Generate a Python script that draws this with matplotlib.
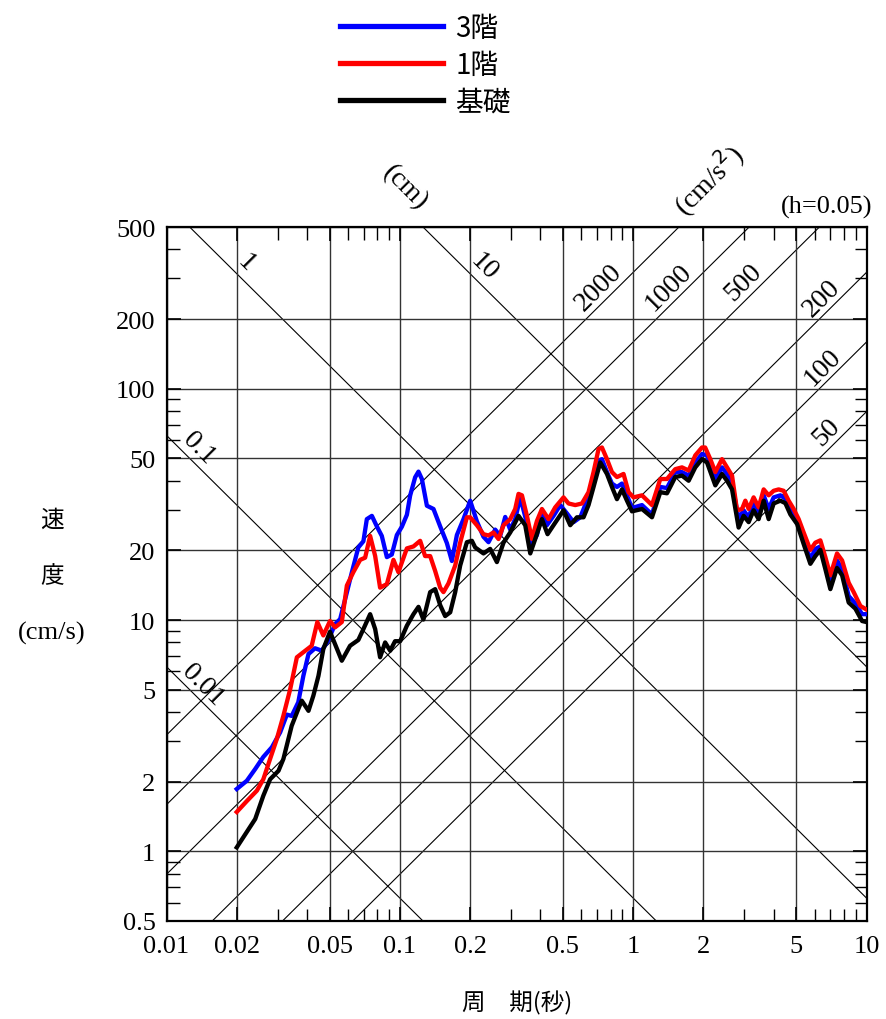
import numpy as np
import matplotlib
matplotlib.use('Agg')
import matplotlib.pyplot as plt
from matplotlib.ticker import LogLocator, NullFormatter

plt.rcParams['font.family'] = ['Liberation Serif', 'Noto Sans CJK JP']

# 周期 (秒) と速度応答 (cm/s), h=0.05
T_3f = [0.020, 0.0221, 0.024, 0.026, 0.0283, 0.0307, 0.0328, 0.0344, 0.0367, 0.0386,
        0.0406, 0.0433, 0.0463, 0.0494, 0.0528, 0.0555, 0.0583, 0.0623, 0.0664, 0.0698,
        0.0722, 0.0759, 0.0797, 0.0837, 0.0880, 0.0924, 0.0971, 0.1020, 0.1072, 0.1107,
        0.1163, 0.1202, 0.1243, 0.1306, 0.1394, 0.1489, 0.1591, 0.1671, 0.1756, 0.1874,
        0.2002, 0.2139, 0.2283, 0.2399, 0.2563, 0.2692, 0.2829, 0.2972, 0.3122, 0.3281,
        0.3446, 0.3681, 0.3868, 0.4064, 0.4269, 0.4557, 0.4869, 0.5202, 0.5553, 0.5932,
        0.6338, 0.6764, 0.7107, 0.7348, 0.7721, 0.8111, 0.8522, 0.8954, 0.9407, 0.9882,
        1.091, 1.204, 1.307, 1.396, 1.515, 1.619, 1.729, 1.846, 1.972, 2.072,
        2.249, 2.403, 2.525, 2.653, 2.831, 2.974, 3.126, 3.283, 3.450, 3.625,
        3.808, 4.001, 4.274, 4.490, 4.718, 5.041, 5.379, 5.746, 6.037, 6.342,
        6.663, 7.000, 7.477, 7.860, 8.388, 8.960, 9.575, 10.0]
V_3f = [1.86, 2.02, 2.27, 2.56, 2.82, 3.27, 3.90, 3.85, 4.41, 5.74,
        7.13, 7.55, 7.37, 8.20, 9.60, 10.1, 12.3, 16.1, 20.6, 21.9,
        27.3, 28.2, 25.4, 23.1, 18.7, 19.2, 23.3, 25.3, 28.5, 34.5,
        41.4, 43.8, 40.7, 31.2, 30.2, 25.4, 21.5, 18.0, 23.3, 27.3,
        32.8, 26.7, 22.9, 21.7, 24.6, 23.1, 27.9, 24.6, 27.3, 33.9,
        28.0, 21.2, 23.3, 28.9, 25.7, 28.2, 31.4, 28.9, 26.5, 27.8,
        32.8, 39.4, 48.8, 49.6, 43.6, 38.9, 37.6, 38.9, 34.6, 30.5,
        31.4, 28.6, 37.6, 37.2, 43.6, 43.6, 42.1, 48.0, 52.2, 51.5,
        40.7, 45.7, 42.8, 39.0, 27.3, 29.8, 27.8, 31.9, 28.9, 34.6,
        30.2, 33.9, 34.6, 33.5, 30.2, 26.8, 22.4, 18.3, 20.3, 20.8,
        17.5, 14.2, 18.1, 16.6, 12.7, 11.8, 10.6, 10.6]

T_1f = [0.020, 0.0221, 0.0244, 0.026, 0.0278, 0.0297, 0.0317, 0.0339, 0.0362, 0.0386,
        0.0419, 0.0443, 0.0470, 0.0502, 0.0528, 0.0564, 0.0593, 0.0632, 0.0676, 0.0710,
        0.0746, 0.0784, 0.0823, 0.0880, 0.0939, 0.0986, 0.1072, 0.1144, 0.1222, 0.1283,
        0.1349, 0.1417, 0.1489, 0.1538, 0.1616, 0.1727, 0.1814, 0.1938, 0.2002, 0.2139,
        0.2283, 0.2399, 0.2520, 0.2648, 0.2782, 0.2972, 0.3122, 0.3226, 0.3337, 0.3505,
        0.3681, 0.3868, 0.4064, 0.4338, 0.4634, 0.5030, 0.5284, 0.5646, 0.6032, 0.6437,
        0.6764, 0.7107, 0.7348, 0.7721, 0.8111, 0.8522, 0.9093, 0.9556, 1.004, 1.091,
        1.204, 1.307, 1.396, 1.515, 1.619, 1.729, 1.846, 1.972, 2.035, 2.141,
        2.249, 2.403, 2.525, 2.653, 2.787, 2.928, 3.025, 3.126, 3.283, 3.450,
        3.625, 3.808, 4.001, 4.203, 4.415, 4.639, 4.874, 5.121, 5.379, 5.746,
        6.037, 6.342, 6.663, 7.000, 7.477, 7.860, 8.388, 8.813, 9.416, 10.0]
V_1f = [1.48, 1.65, 1.83, 2.05, 2.51, 3.06, 3.86, 5.03, 6.90, 7.26,
        7.74, 9.80, 8.58, 9.90, 9.30, 9.80, 14.1, 16.1, 18.2, 18.6,
        23.1, 18.9, 13.8, 14.3, 18.2, 16.1, 20.4, 20.8, 22.0, 18.9,
        18.9, 16.3, 13.8, 13.2, 14.4, 17.2, 21.6, 27.8, 27.8, 25.7,
        23.5, 23.2, 23.9, 22.4, 25.7, 27.3, 30.2, 35.1, 34.6, 28.2,
        22.4, 26.8, 30.2, 27.3, 30.7, 33.9, 31.9, 31.4, 31.9, 35.7,
        43.6, 54.9, 55.7, 49.6, 43.6, 41.5, 42.8, 35.7, 33.9, 34.6,
        31.4, 40.7, 40.7, 44.9, 45.7, 44.3, 51.5, 55.7, 55.7, 49.6,
        43.6, 49.6, 45.7, 42.1, 29.8, 30.2, 32.8, 30.2, 33.9, 30.7,
        36.7, 34.6, 36.2, 36.7, 36.2, 32.8, 30.2, 27.3, 23.9, 20.1,
        21.6, 22.1, 18.7, 15.6, 19.4, 18.1, 14.5, 13.2, 11.5, 11.1]

T_base = [0.020, 0.024, 0.026, 0.0278, 0.0302, 0.0317, 0.0344, 0.0367, 0.0380, 0.0406,
          0.0426, 0.0448, 0.0470, 0.0502, 0.0564, 0.0612, 0.0664, 0.0698, 0.0746, 0.0784,
          0.0823, 0.0865, 0.0909, 0.0954, 0.1003, 0.1072, 0.1144, 0.1202, 0.1262, 0.1349,
          0.1417, 0.1489, 0.1564, 0.1644, 0.1727, 0.1814, 0.1938, 0.2036, 0.2103, 0.2283,
          0.2439, 0.2606, 0.2782, 0.2972, 0.3226, 0.3446, 0.3622, 0.3804, 0.4064, 0.4296,
          0.4557, 0.5030, 0.5374, 0.5741, 0.6128, 0.6437, 0.6764, 0.7227, 0.7721, 0.8111,
          0.8522, 0.8954, 0.9407, 0.9882, 1.091, 1.204, 1.307, 1.396, 1.515, 1.619,
          1.729, 1.846, 1.972, 2.072, 2.249, 2.403, 2.525, 2.653, 2.831, 2.974,
          3.126, 3.283, 3.450, 3.625, 3.808, 4.001, 4.274, 4.490, 4.718, 5.041,
          5.379, 5.746, 6.037, 6.342, 6.663, 7.000, 7.477, 7.860, 8.388, 8.960,
          9.575, 10.0]
V_base = [1.04, 1.38, 1.74, 2.05, 2.23, 2.51, 3.49, 4.12, 4.48, 4.05,
          4.71, 5.74, 7.49, 8.90, 6.67, 7.74, 8.20, 9.14, 10.6, 9.14,
          6.90, 8.00, 7.37, 8.10, 8.10, 9.45, 10.6, 11.4, 10.05, 13.2,
          13.6, 11.6, 10.4, 10.8, 13.2, 17.2, 21.7, 22.0, 20.6, 19.4,
          20.3, 17.8, 21.6, 23.9, 28.2, 25.7, 19.4, 22.4, 27.3, 23.5,
          25.7, 29.8, 25.7, 27.8, 27.8, 31.4, 37.6, 48.0, 42.8, 37.6,
          33.3, 36.7, 32.8, 29.5, 30.2, 27.8, 35.7, 35.3, 41.5, 42.1,
          40.0, 45.7, 49.6, 48.0, 38.2, 42.8, 40.0, 36.7, 25.1, 28.2,
          26.5, 29.8, 27.3, 32.8, 27.3, 31.9, 32.8, 32.0, 28.6, 26.0,
          21.3, 17.5, 18.9, 20.1, 16.6, 13.6, 16.8, 15.6, 11.9, 11.2,
          9.9, 9.8]

# 三軸図の斜線 (変位 cm, 加速度 cm/s2)
disp_levels = [0.01, 0.1, 1, 10]
acc_levels = [2000, 1000, 500, 200, 100, 50]

x_ticks = [0.01, 0.02, 0.05, 0.1, 0.2, 0.5, 1, 2, 5, 10]
x_labels = ['0.01', '0.02', '0.05', '0.1', '0.2', '0.5', '1', '2', '5', '10']
y_ticks = [0.5, 1, 2, 5, 10, 20, 50, 100, 200, 500]
y_labels = ['0.5', '1', '2', '5', '10', '20', '50', '100', '200', '500']

fig = plt.figure(figsize=(8.86, 10.2), dpi=100)
ax = fig.add_axes([166.5 / 886, 1 - 922 / 1020, 700 / 886, 694 / 1020])
ax.set_xscale('log')
ax.set_yscale('log')
ax.set_xlim(0.01, 10)
ax.set_ylim(0.5, 500)

# 斜線
T_line = np.array([0.001, 100.0])
for d in disp_levels:
    ax.plot(T_line, 2 * np.pi * d / T_line, color='black', lw=0.8, zorder=1)
for a in acc_levels:
    ax.plot(T_line, a * T_line / (2 * np.pi), color='black', lw=0.8, zorder=1)

ax.grid(True, which='major', color='#333333', lw=1.0, zorder=1)

# 応答曲線
lw = 3.1
l3, = ax.plot(T_3f, V_3f, color='#0000ff', lw=lw, zorder=3, label='3階',
              solid_joinstyle='round')
l1, = ax.plot(T_1f, V_1f, color='#ff0000', lw=lw, zorder=4, label='1階',
              solid_joinstyle='round')
lb, = ax.plot(T_base, V_base, color='black', lw=lw, zorder=5, label='基礎',
              solid_joinstyle='round')

ax.set_xticks(x_ticks)
ax.set_xticklabels(x_labels)
ax.set_yticks(y_ticks)
ax.set_yticklabels(y_labels)
ax.xaxis.set_minor_locator(LogLocator(base=10, subs=[3, 4, 6, 7, 8, 9]))
ax.yaxis.set_minor_locator(LogLocator(base=10, subs=[3, 4, 6, 7, 8, 9]))
ax.xaxis.set_minor_formatter(NullFormatter())
ax.yaxis.set_minor_formatter(NullFormatter())
ax.tick_params(which='both', direction='in', top=True, right=True, labelsize=19)
ax.tick_params(which='major', length=10, width=1.2)
ax.tick_params(which='minor', length=9, width=1.0)
ax.tick_params(axis='x', which='major', pad=10)
ax.tick_params(axis='y', which='major', pad=8)
for s in ax.spines.values():
    s.set_linewidth(1.6)

# 斜線の目盛り値
fs = 20
ax.text(0.0219, 353, '1', rotation=-45, ha='center', va='center', fontsize=fs, rotation_mode='anchor')
ax.text(0.23, 339, '10', rotation=-45, ha='center', va='center', fontsize=fs, rotation_mode='anchor')
ax.text(0.0138, 55.4, '0.1', rotation=-45, ha='center', va='center', fontsize=fs, rotation_mode='anchor')
ax.text(0.01434, 5.28, '0.01', rotation=-45, ha='center', va='center', fontsize=fs, rotation_mode='anchor')
ax.text(0.1055, 745, '(cm)', rotation=-45, ha='center', va='center', fontsize=fs,
        rotation_mode='anchor', clip_on=False)
ax.text(0.708, 275, '2000', rotation=45, ha='center', va='center', fontsize=fs, rotation_mode='anchor')
ax.text(1.414, 275, '1000', rotation=45, ha='center', va='center', fontsize=fs, rotation_mode='anchor')
ax.text(2.967, 289, '500', rotation=45, ha='center', va='center', fontsize=fs, rotation_mode='anchor')
ax.text(6.41, 247, '200', rotation=45, ha='center', va='center', fontsize=fs, rotation_mode='anchor')
ax.text(6.47, 124, '100', rotation=45, ha='center', va='center', fontsize=fs, rotation_mode='anchor')
ax.text(6.73, 65, '50', rotation=45, ha='center', va='center', fontsize=fs, rotation_mode='anchor')
ax.text(2.10, 806, '(cm/s$^2$)', rotation=45, ha='center', va='center', fontsize=fs,
        rotation_mode='anchor', clip_on=False)
ax.text(1.008, 1.030, '(h=0.05)', transform=ax.transAxes, ha='right', va='center', fontsize=19)

# 軸ラベル
jp = ['Noto Sans CJK JP', 'DejaVu Sans']
fig.text(52 / 886, 1 - 520 / 1020, '速', ha='center', va='center', fontsize=17, family=jp)
fig.text(52 / 886, 1 - 577 / 1020, '度', ha='center', va='center', fontsize=17, family=jp)
fig.text(52 / 886, 1 - 633 / 1020, '(cm/s)', ha='center', va='center', fontsize=19)
fig.text(517 / 886, 1 - 1003 / 1020, '周\u3000期(秒)', ha='center', va='center', fontsize=17, family=jp)

leg = fig.legend(handles=[l3, l1, lb], loc='upper left', bbox_to_anchor=(340 / 886, 1 - 14 / 1020),
                 frameon=False, borderpad=0, borderaxespad=0, handlelength=3.7,
                 handletextpad=0.45, labelspacing=0.24,
                 prop={'family': ['Noto Sans CJK JP'], 'size': 20})
for h in leg.get_lines():
    h.set_linewidth(3.8)

fig.savefig('out.png', dpi=100)
